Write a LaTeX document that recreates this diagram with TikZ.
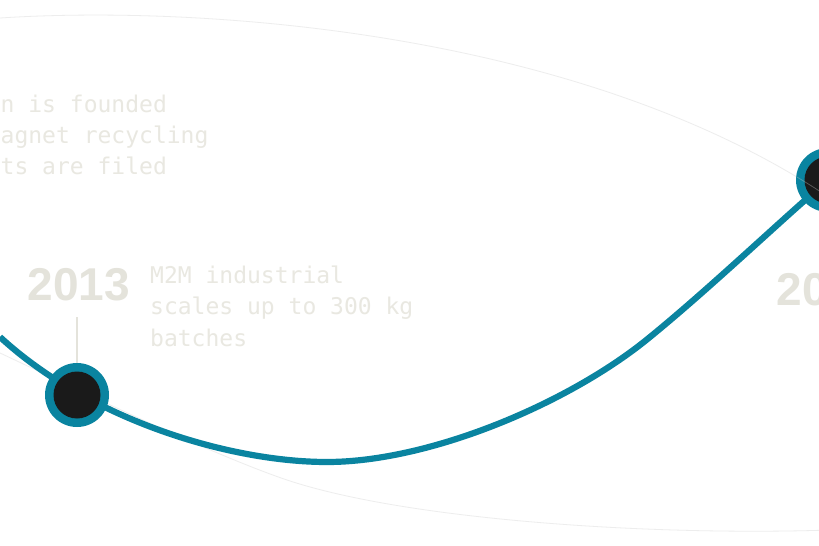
\documentclass[tikz,border=0pt]{standalone}
\usepackage{fontspec}
\newfontfamily\monofont{DejaVu Sans Mono}
\newfontfamily\yearfont{Liberation Sans}
\definecolor{teal1}{HTML}{0A84A0}
\definecolor{dotblack}{HTML}{1A1A1A}
\definecolor{yeargray}{HTML}{E4E3DB}
\definecolor{descgray}{HTML}{E9E8E1}
\tikzset{
  desc/.style={anchor=base west, inner sep=0pt, text=descgray, font=\monofont\fontsize{23bp}{31bp}\selectfont},
  year/.style={anchor=base west, inner sep=0pt, text=yeargray, font=\yearfont\bfseries\fontsize{46bp}{50bp}\selectfont},
  ring/.style={circle, fill=teal1, minimum size=64bp, inner sep=0pt},
  core/.style={circle, fill=dotblack, minimum size=47bp, inner sep=0pt},
  faintline/.style={draw=black!20, opacity=0.35, line width=0.8bp},
  mainline/.style={draw=teal1, line width=6.2bp},
  tick/.style={draw=yeargray, line width=1.2bp}
}
\begin{document}
\begin{tikzpicture}[x=1bp,y=-1bp]
\useasboundingbox (0,0) rectangle (819,546);
\fill[white] (0,0) rectangle (819,546);
\clip (0,0) rectangle (819,546);
% faint lower curve
\draw[faintline] (0,353) .. controls (60,381) and (207,453) .. (287,480)
                 .. controls (407,520) and (650,536) .. (830,530);
% main curve
\coordinate (s0) at (0,337);
\coordinate (s1) at (327,462);
\coordinate (s2) at (650,337);
\coordinate (s3) at (828,180);
\draw[mainline] (s0) .. controls (90,420) and (230,462) .. (s1)
                .. controls (430,462) and (570,403) .. (s2)
                .. controls (710,288) and (778,223) .. (s3);
% nodes
\node[ring] (n1) at (77,395) {};
\node[core] (c1) at (77,395) {};
\node[ring] (n2) at (828,180) {};
\node[core] (c2) at (828,180) {};
% tick
\coordinate (t1) at (77,317);
\draw[tick] (t1) -- (n1.north);
% faint upper curve
\draw[faintline] (0,18) .. controls (200,5) and (580,30) .. (830,198) -- (850,210);
% texts
\node[desc] (a1) at (0.5,113) {n is founded};
\node[desc] (a2) at (0.5,144) {agnet recycling};
\node[desc] (a3) at (0.5,175) {ts are filed};
\node[year] (y1) at (27.5,300.5) {2013};
\node[desc] (b1) at (150,284) {M2M industrial};
\node[desc] (b2) at (150,315) {scales up to 300 kg};
\node[desc] (b3) at (150,346) {batches};
\node[year] (y2) at (776.5,305.5) {20};
\end{tikzpicture}
\end{document}
